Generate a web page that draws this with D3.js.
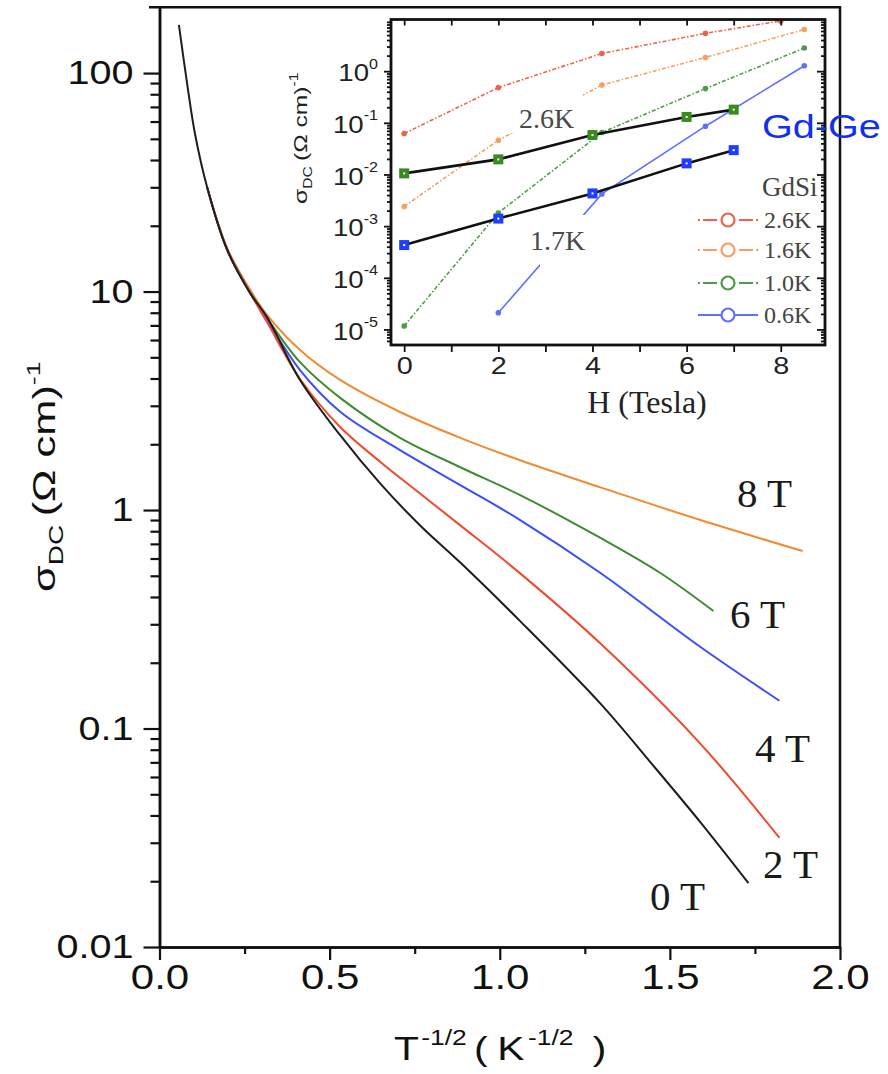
<!DOCTYPE html>
<html>
<head>
<meta charset="utf-8">
<script src="https://cdn.jsdelivr.net/npm/d3@7"></script>
<style>
  body { margin: 0; background: #fff; }
  svg { display: block; }
</style>
</head>
<body>
<svg id="chart" width="888" height="1074"></svg>
<script>
// ---- Main panel: sigma_DC vs T^-1/2 for several applied fields ----
const xTicks = [0, 0.5, 1.0, 1.5, 2.0];
const xTickLabels = ["0.0", "0.5", "1.0", "1.5", "2.0"];
const yTicks = [0.01, 0.1, 1, 10, 100];
const yTickLabels = ["0.01", "0.1", "1", "10", "100"];

const x_0T = [0.057, 0.081, 0.104, 0.140, 0.199, 0.266, 0.316, 0.413, 0.531, 0.649, 0.766, 0.884, 1.060, 1.296, 1.450, 1.590, 1.731];
const s_0T = [166, 90, 53, 30, 15.5, 9.85, 7.64, 3.94, 2.20, 1.32, 0.85, 0.575, 0.31, 0.13, 0.068, 0.0372, 0.0196];
const x_2T = [0.140, 0.199, 0.266, 0.316, 0.413, 0.531, 0.649, 0.766, 0.884, 1.060, 1.296, 1.590, 1.822];
const s_2T = [30, 15.5, 9.87, 7.25, 3.98, 2.40, 1.66, 1.19, 0.851, 0.513, 0.245, 0.0851, 0.0316];
const x_4T = [0.140, 0.199, 0.266, 0.316, 0.413, 0.531, 0.707, 0.884, 1.060, 1.296, 1.590, 1.822];
const s_4T = [30, 15.5, 9.9, 7.41, 4.37, 2.82, 1.88, 1.30, 0.90, 0.515, 0.236, 0.134];
const x_6T = [0.140, 0.199, 0.266, 0.316, 0.413, 0.531, 0.707, 0.884, 1.060, 1.296, 1.472, 1.628];
const s_6T = [30, 15.6, 9.95, 7.57, 4.75, 3.26, 2.14, 1.57, 1.17, 0.745, 0.515, 0.345];
const x_8T = [0.140, 0.199, 0.266, 0.316, 0.413, 0.531, 0.707, 0.884, 1.060, 1.296, 1.590, 1.890];
const s_8T = [30, 15.8, 10.2, 7.82, 5.40, 3.94, 2.81, 2.14, 1.69, 1.27, 0.90, 0.649];

const fieldNames = ["0 T", "2 T", "4 T", "6 T", "8 T"];
const fieldColors = ["#1e1e1e", "#ef4a2e", "#3a4dff", "#3d8c2f", "#f28a30"];

// ---- Inset: sigma_DC vs H ----
const inXTicks = [0, 2, 4, 6, 8];
const inYTicks = [1, 0.1, 0.01, 1e-3, 1e-4, 1e-5];
const inYExp = ["0", "-1", "-2", "-3", "-4", "-5"];

const H_26K = [0, 2, 4.2, 6.4, 8.0, 8.5];
const s_26K = [0.062, 0.48, 2.2, 5.4, 9.4, 12];
const H_16K = [0, 2, 4.2, 6.4, 8.5];
const s_16K = [0.0024, 0.046, 0.54, 1.84, 6.4];
const H_10K = [0, 2, 4.2, 6.4, 8.5];
const s_10K = [1.17e-5, 1.8e-3, 0.065, 0.46, 2.8];
const H_06K = [2, 4.2, 6.4, 8.5];
const s_06K = [2.1e-5, 4.2e-3, 0.086, 1.27];
const gdsiNames = ["2.6K", "1.6K", "1.0K", "0.6K"];
const gdsiColors = ["#f0604a", "#f59f62", "#4f9b47", "#5f70ff"];

const H_GdGe = [0, 2, 4, 6, 7];
const s_GdGe26 = [0.0105, 0.0196, 0.058, 0.13, 0.18];
const s_GdGe17 = [4.3e-4, 1.4e-3, 4.3e-3, 0.0164, 0.0296];
const gdgeColors = ["#3a8a22", "#1f3dff"];

// ---------------------------------------------------------------
const svg = d3.select("#chart");
const SX = 1.2;   // sans-serif labels are set horizontally widened

function widen(sel, k = SX) {
  sel.each(function () {
    const t = d3.select(this);
    const xx = +t.attr("x") || 0;
    t.attr("x", xx / k).attr("transform", `scale(${k},1)`);
  });
}

const x = d3.scaleLinear().domain([0, 2]).range([159.5, 840]);
const y = d3.scaleLog().domain([0.01, 200]).range([947, 7.3]);

const minorY = [];
[0.01, 0.1, 1, 10, 100].forEach(d => { for (let m = 2; m <= 9; m++) if (d * m < 200) minorY.push(d * m); });
const minorX = [0.25, 0.75, 1.25, 1.75];

// curves
const curves = [
  { xs: x_0T, ys: s_0T }, { xs: x_2T, ys: s_2T }, { xs: x_4T, ys: s_4T },
  { xs: x_6T, ys: s_6T }, { xs: x_8T, ys: s_8T }
];
const line = d3.line().x(d => x(d[0])).y(d => y(d[1])).curve(d3.curveCatmullRom.alpha(0.5));
const gCurves = svg.append("g");
// draw high-field curves first so the zero-field trace lies on top near the origin
[4, 3, 2, 1, 0].forEach(i => {
  const c = curves[i];
  gCurves.append("path")
    .datum(c.xs.map((v, j) => [v, c.ys[j]]))
    .attr("d", line)
    .attr("fill", "none")
    .attr("stroke", fieldColors[i])
    .attr("stroke-width", 2);
});

// field labels
const fieldLabelPos = [[650, 910], [763, 878], [755, 762], [730, 628], [737, 507]];
svg.append("g").selectAll("text").data(fieldNames).join("text")
  .attr("x", (d, i) => fieldLabelPos[i][0])
  .attr("y", (d, i) => fieldLabelPos[i][1])
  .attr("font-family", "Liberation Serif, Times New Roman, serif")
  .attr("font-size", 41)
  .attr("fill", "#1a1a1a")
  .text(d => d);

// axes
function styleAxis(g) {
  g.select(".domain").attr("stroke", "#111").attr("stroke-width", 2.5);
  g.selectAll(".tick line").attr("stroke", "#111").attr("stroke-width", 2.2);
}
const gyMinor = svg.append("g").attr("transform", `translate(${x(0)},0)`)
  .call(d3.axisLeft(y).tickValues(minorY).tickSize(9).tickSizeOuter(0).tickFormat(""));
styleAxis(gyMinor);
const gy = svg.append("g").attr("transform", `translate(${x(0)},0)`)
  .call(d3.axisLeft(y).tickValues(yTicks).tickSize(16).tickSizeOuter(0).tickPadding(10)
    .tickFormat((d, i) => yTickLabels[i]));
styleAxis(gy);
gy.selectAll(".tick text").attr("font-family", "Liberation Sans, Arial, sans-serif")
  .attr("font-size", 33).attr("fill", "#111");
widen(gy.selectAll(".tick text"));

const gxMinor = svg.append("g").attr("transform", `translate(0,${y(0.01)})`)
  .call(d3.axisBottom(x).tickValues(minorX).tickSize(7).tickSizeOuter(0).tickFormat(""));
styleAxis(gxMinor);
const gx = svg.append("g").attr("transform", `translate(0,${y(0.01)})`)
  .call(d3.axisBottom(x).tickValues(xTicks).tickSize(13).tickSizeOuter(0).tickPadding(4)
    .tickFormat((d, i) => xTickLabels[i]));
styleAxis(gx);
gx.selectAll(".tick text").attr("font-family", "Liberation Sans, Arial, sans-serif")
  .attr("font-size", 35).attr("fill", "#111");
widen(gx.selectAll(".tick text"));

// frame top / right
svg.append("line").attr("x1", 149).attr("x2", 841).attr("y1", 7.3).attr("y2", 7.3)
  .attr("stroke", "#111").attr("stroke-width", 2.5);
svg.append("line").attr("x1", 840).attr("x2", 840).attr("y1", 6).attr("y2", 948)
  .attr("stroke", "#111").attr("stroke-width", 2.5);

// axis titles
const xt = svg.append("text")
  .attr("transform", "translate(394,1060) scale(1.2,1)")
  .attr("font-family", "Liberation Sans, Arial, sans-serif")
  .attr("font-size", 34).attr("fill", "#111");
xt.append("tspan").text("T");
xt.append("tspan").attr("font-size", 22).attr("dy", -15).attr("dx", 2).text("-1/2");
xt.append("tspan").attr("dy", 15).attr("dx", 6).text("(");
xt.append("tspan").attr("dx", 8).text("K");
xt.append("tspan").attr("font-size", 22).attr("dy", -15).attr("dx", 3).text("-1/2");
xt.append("tspan").attr("dy", 15).attr("dx", 16).text(")");

const yt = svg.append("text")
  .attr("transform", "translate(55,592) rotate(-90) scale(1.4,1)")
  .attr("font-family", "Liberation Sans, Arial, sans-serif")
  .attr("font-size", 31).attr("fill", "#111");
yt.append("tspan").text("σ");
yt.append("tspan").attr("font-size", 20).attr("dy", 8).text("DC");
yt.append("tspan").attr("dy", -8).attr("dx", 6).text("(Ω cm)");
yt.append("tspan").attr("font-size", 19).attr("dy", -15).text("-1");

// ---------------- inset ----------------
const ix = d3.scaleLinear().domain([-0.28, 8.94]).range([391, 825]);
const iy = d3.scaleLog().domain([5e-6, 10]).range([345, 19.5]);
const gi = svg.append("g");
gi.append("rect").attr("x", 391).attr("y", 19.5).attr("width", 434).attr("height", 325.5).attr("fill", "#fff");

svg.append("clipPath").attr("id", "inclip").append("rect")
  .attr("x", 391).attr("y", 19.5).attr("width", 434).attr("height", 325.5);

const iline = d3.line().x(d => ix(d[0])).y(d => iy(d[1]));
const gdsi = [[H_26K, s_26K], [H_16K, s_16K], [H_10K, s_10K], [H_06K, s_06K]];
const gIn = gi.append("g").attr("clip-path", "url(#inclip)");
gdsi.forEach((s, i) => {
  const pts = s[0].map((h, j) => [h, s[1][j]]);
  gIn.append("path").datum(pts).attr("d", iline)
    .attr("fill", "none").attr("stroke", gdsiColors[i]).attr("stroke-width", 1.6)
    .attr("stroke-dasharray", i === 3 ? null : "4,2,1.5,2");
  gIn.selectAll(null).data(pts).join("circle")
    .attr("cx", d => ix(d[0])).attr("cy", d => iy(d[1])).attr("r", 2.8)
    .attr("fill", gdsiColors[i]);
});

// white boxes behind in-plot temperature labels
gIn.append("rect").attr("x", 510).attr("y", 92).attr("width", 73).attr("height", 41).attr("fill", "#fff");
gIn.append("rect").attr("x", 540).attr("y", 215).attr("width", 47).attr("height", 52).attr("fill", "#fff");
gIn.append("text").attr("x", 519).attr("y", 128).text("2.6K");
gIn.append("text").attr("x", 530).attr("y", 250).text("1.7K");
gIn.selectAll("text").attr("font-family", "Liberation Serif, Times New Roman, serif")
  .attr("font-size", 28).attr("fill", "#4a4a4a");

// Gd-Ge series: black lines with square markers
[s_GdGe26, s_GdGe17].forEach((s, i) => {
  const pts = H_GdGe.map((h, j) => [h, s[j]]);
  gIn.append("path").datum(pts).attr("d", iline)
    .attr("fill", "none").attr("stroke", "#111").attr("stroke-width", 2.6);
  const sq = gIn.selectAll(null).data(pts).join("g")
    .attr("transform", d => `translate(${ix(d[0])},${iy(d[1])})`);
  sq.append("rect").attr("x", -5).attr("y", -5).attr("width", 10).attr("height", 10)
    .attr("fill", gdgeColors[i]);
  sq.append("rect").attr("x", -1).attr("y", -1).attr("width", 2).attr("height", 2)
    .attr("fill", "#fff");
});

// inset axes
const inMinorY = [];
[1e-6, 1e-5, 1e-4, 1e-3, 0.01, 0.1, 1].forEach(d => {
  for (let m = 2; m <= 9; m++) { const v = d * m; if (v > 5e-6 && v < 10) inMinorY.push(v); }
});
const inAxisColor = "#111";
function iTicks(g) {
  g.select(".domain").remove();
  g.selectAll(".tick line").attr("stroke", inAxisColor).attr("stroke-width", 1.8);
}
const ilMinor = gi.append("g").attr("transform", `translate(391,0)`)
  .call(d3.axisLeft(iy).tickValues(inMinorY).tickSize(4).tickFormat(""));
iTicks(ilMinor);
const il = gi.append("g").attr("transform", `translate(391,0)`)
  .call(d3.axisLeft(iy).tickValues(inYTicks).tickSize(7).tickPadding(6).tickFormat(() => "10"));
iTicks(il);
il.selectAll(".tick text").attr("font-family", "Liberation Sans, Arial, sans-serif")
  .attr("font-size", 24).attr("fill", "#222").attr("dy", "0.4em");
il.selectAll(".tick text").each(function (d, i) {
  d3.select(this).append("tspan").attr("font-size", 14).attr("dy", "-0.9em").text(inYExp[i]);
});
widen(il.selectAll(".tick text"), 1.15);

const irMinor = gi.append("g").attr("transform", `translate(825,0)`)
  .call(d3.axisLeft(iy).tickValues(inMinorY).tickSize(4).tickFormat(""));
iTicks(irMinor);
const ir = gi.append("g").attr("transform", `translate(825,0)`)
  .call(d3.axisLeft(iy).tickValues(inYTicks).tickSize(8).tickFormat(""));
iTicks(ir);

const ib = gi.append("g").attr("transform", `translate(0,345)`)
  .call(d3.axisBottom(ix).tickValues(d3.range(0, 9)).tickSize(7).tickPadding(5)
    .tickFormat(d => (d % 2 === 0 ? d : "")));
iTicks(ib);
ib.selectAll(".tick text").attr("font-family", "Liberation Sans, Arial, sans-serif")
  .attr("font-size", 24).attr("fill", "#222");
widen(ib.selectAll(".tick text"), 1.2);
const it = gi.append("g").attr("transform", `translate(0,19.5)`)
  .call(d3.axisBottom(ix).tickValues(d3.range(0, 9)).tickSize(6).tickFormat(""));
iTicks(it);

gi.append("rect").attr("x", 391).attr("y", 19.5).attr("width", 434).attr("height", 325.5)
  .attr("fill", "none").attr("stroke", "#111").attr("stroke-width", 2.8);

// inset titles
gi.append("text").attr("x", 647).attr("y", 413).attr("text-anchor", "middle")
  .attr("font-family", "Liberation Serif, Times New Roman, serif")
  .attr("font-size", 32).attr("fill", "#222").text("H (Tesla)");
const iyt = gi.append("text")
  .attr("transform", "translate(307,204) rotate(-90) scale(1.3,1)")
  .attr("font-family", "Liberation Sans, Arial, sans-serif")
  .attr("font-size", 19).attr("fill", "#222");
iyt.append("tspan").text("σ");
iyt.append("tspan").attr("font-size", 12).attr("dy", 5).text("DC");
iyt.append("tspan").attr("dy", -5).attr("dx", 4).text("(Ω cm)");
iyt.append("tspan").attr("font-size", 12).attr("dy", -9).text("-1");

// legend
const lg = gi.append("g");
lg.append("text").attr("x", 762).attr("y", 196)
  .attr("font-family", "Liberation Serif, Times New Roman, serif")
  .attr("font-size", 27).attr("fill", "#444").text("GdSi");
const legY = [220, 250, 283, 315];
gdsiNames.forEach((n, i) => {
  const row = lg.append("g").attr("transform", `translate(0,${legY[i]})`);
  row.append("line").attr("x1", 698).attr("x2", 758).attr("y1", 0).attr("y2", 0)
    .attr("stroke", gdsiColors[i]).attr("stroke-width", 2)
    .attr("stroke-dasharray", i === 3 ? null : "2,3,14,22,14,3,2");
  row.append("circle").attr("cx", 728).attr("cy", 0).attr("r", 6.5)
    .attr("fill", "#fff").attr("stroke", gdsiColors[i]).attr("stroke-width", 2.2);
  row.append("text").attr("x", 764).attr("y", 8)
    .attr("font-family", "Liberation Serif, Times New Roman, serif")
    .attr("font-size", 24).attr("fill", "#444").text(n);
});

// material tag
svg.append("text").attr("x", 762 / 1.2).attr("y", 138).attr("transform", "scale(1.2,1)")
  .attr("font-family", "Liberation Sans, Arial, sans-serif")
  .attr("font-size", 33).attr("fill", "#1030f0").text("Gd-Ge");
</script>
</body>
</html>
